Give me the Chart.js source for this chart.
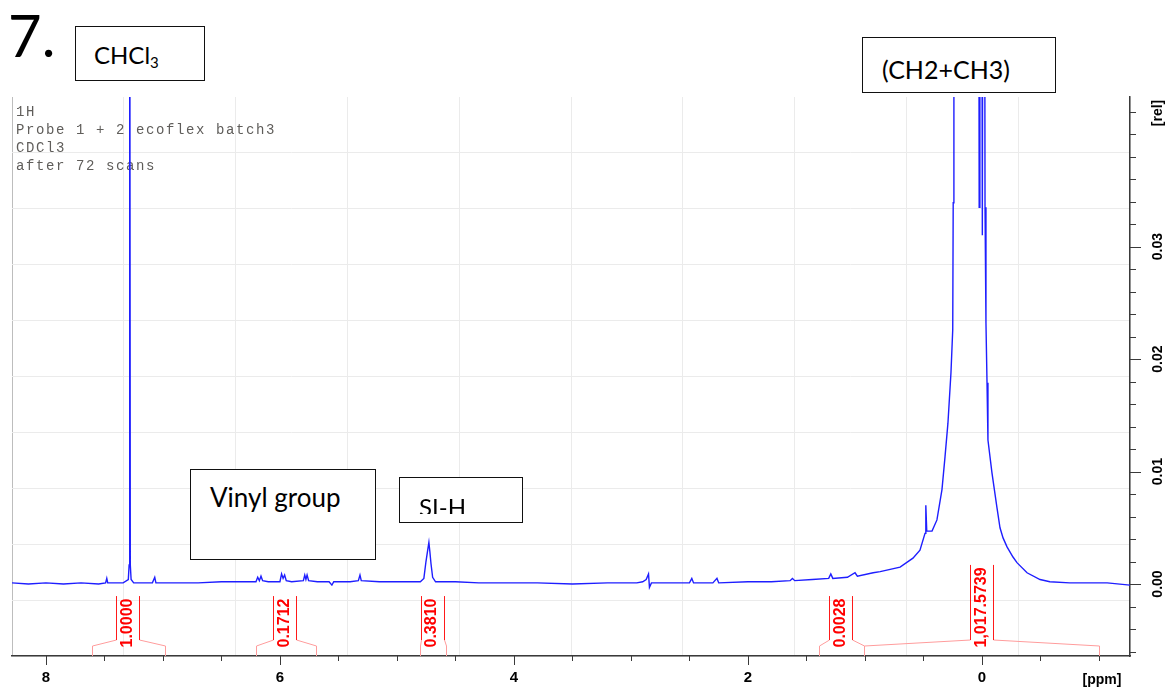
<!DOCTYPE html>
<html>
<head>
<meta charset="utf-8">
<script src="https://cdn.jsdelivr.net/npm/chart.js@4.4.1/dist/chart.umd.min.js"></script>
<style>
  body { margin: 0; background: #fff; }
  #wrap { position: relative; width: 1171px; height: 692px; overflow: hidden; }
  #spec { position: absolute; left: 0; top: 0; }
  .note { position: absolute; box-sizing: border-box; border: 1.5px solid #111; background: #fff; font-family: Lato, sans-serif; color: #000; }
  .note span, .big { position: absolute; white-space: nowrap; line-height: 1; font-family: Lato, sans-serif; }
  .clip { position: absolute; left: 0; top: 0; right: 0; overflow: hidden; }
</style>
</head>
<body>
<div id="wrap">
  <canvas id="spec" width="1171" height="692"></canvas>
  <div class="big" style="left:8px; top:6px; font-size:58px;">7.</div>
  <div class="note" style="left:75px; top:26px; width:130px; height:55px;">
    <span style="left:18px; top:16px; font-size:24px;">CHCl<sub style="font-size:15px; vertical-align:-4px;">3</sub></span>
  </div>
  <div class="note" style="left:862px; top:37px; width:194px; height:56px;">
    <span style="left:19px; top:19px; font-size:25px;">(CH2+CH3)</span>
  </div>
  <div class="note" style="left:190px; top:469px; width:186px; height:91px;">
    <span style="left:19px; top:14px; font-size:26px;">Vinyl group</span>
  </div>
  <div class="note" style="left:399px; top:477px; width:124px; height:46px;">
    <div class="clip" style="height:36px;">
      <span style="left:19px; top:17px; font-size:24px;">SI-H</span>
    </div>
  </div>
</div>
<script>
// spectrum trace (ppm, intensity [rel])
const SPEC_PPM = [
  8.29, 8.15, 8.00, 7.85, 7.70, 7.55, 7.49, 7.480, 7.472, 7.34,
  7.296, 7.289, 7.284, 7.279, 7.272, 7.25, 7.09, 7.070, 7.060, 6.90,
  6.70, 6.50, 6.30, 6.205, 6.190, 6.176, 6.162, 6.148, 6.10, 6.00,
  5.986, 5.973, 5.960, 5.946, 5.90, 5.80, 5.788, 5.778, 5.768, 5.755,
  5.68, 5.58, 5.556, 5.54, 5.40, 5.33, 5.316, 5.305, 5.15, 4.95,
  4.80, 4.770, 4.752, 4.736, 4.727, 4.719, 4.709, 4.695, 4.67, 4.50,
  4.30, 4.05, 3.80, 3.50, 3.20, 2.95, 2.90, 2.870, 2.850, 2.842,
  2.825, 2.75, 2.60, 2.50, 2.480, 2.465, 2.30, 2.265, 2.250, 2.00,
  1.80, 1.64, 1.620, 1.600, 1.45, 1.31, 1.292, 1.275, 1.15, 1.085,
  1.065, 0.93, 0.87, 0.70, 0.59, 0.53, 0.487, 0.480, 0.472, 0.427,
  0.385, 0.342, 0.316, 0.291, 0.265, 0.250, 0.246, 0.240, 0.15, 0.05,
  0.030, 0.024, 0.018, 0.004, -0.003, -0.010, -0.020, -0.026, -0.034, -0.043,
  -0.051, -0.085, -0.128, -0.154, -0.180, -0.214, -0.265, -0.299, -0.385, -0.496,
  -0.58, -0.75, -0.90, -1.07, -1.265
];
const SPEC_INT = [
  0.0001, 0.0000, 0.0001, 0.0000, 0.0001, 0.0000, 0.0001, 0.0005, 0.0001, 0.0001,
  0.0004, 0.0017, 0.0700, 0.0017, 0.0004, 0.0001, 0.0001, 0.0006, 0.0001, 0.0001,
  0.0001, 0.0002, 0.0002, 0.0002, 0.0006, 0.0003, 0.0007, 0.0003, 0.0002, 0.0002,
  0.0009, 0.0005, 0.0008, 0.0003, 0.0002, 0.0003, 0.0008, 0.0004, 0.0008, 0.0003,
  0.0002, 0.0002, -0.0001, 0.0002, 0.0002, 0.0003, 0.0008, 0.0003, 0.0002, 0.0002,
  0.0002, 0.0005, 0.0020, 0.0031, 0.0037, 0.0029, 0.0018, 0.0006, 0.0002, 0.0002,
  0.0001, 0.0001, 0.0001, 0.0000, 0.0001, 0.0001, 0.0002, 0.0004, 0.0009, -0.0003,
  0.0001, 0.0001, 0.0001, 0.0001, 0.0005, 0.0001, 0.0001, 0.0005, 0.0001, 0.0002,
  0.0002, 0.0003, 0.0005, 0.0003, 0.0004, 0.0005, 0.0009, 0.0005, 0.0006, 0.0010,
  0.0007, 0.0010, 0.0011, 0.0015, 0.0023, 0.0030, 0.0045, 0.0070, 0.0047, 0.0047,
  0.0057, 0.0084, 0.0113, 0.0143, 0.0188, 0.0226, 0.0339, 0.0800, 0.1000, 0.1000,
  0.0800, 0.0335, 0.0800, 0.0800, 0.0310, 0.0800, 0.0800, 0.0335, 0.0232, 0.0179,
  0.0128, 0.0099, 0.0068, 0.0050, 0.0041, 0.0033, 0.0024, 0.0019, 0.0010, 0.0004,
  0.0002, 0.0001, 0.0001, 0.0001, -0.0001
];

const X_MIN = -1.265, X_MAX = 8.29;
const Y_MIN = -0.0064, Y_MAX = 0.0433;
const X_TICK_LABELS = [8, 6, 4, 2, 0];
const X_MINOR_TICKS = [8, 7.5, 7, 6.5, 6, 5.5, 5, 4.5, 4, 3.5, 3, 2.5, 2, 1.5, 1, 0.5, 0, -0.5, -1];
const Y_TICK_LABELS = [0, 0.01, 0.02, 0.03];
const Y_MINOR_TICKS = [-0.006, -0.004, -0.002, 0, 0.002, 0.004, 0.006, 0.008, 0.01, 0.012, 0.014, 0.016,
  0.018, 0.02, 0.022, 0.024, 0.026, 0.028, 0.03, 0.032, 0.034, 0.036, 0.038, 0.04, 0.042];

// integrals: label, range start/end (ppm), label position (ppm)
const INT_LABELS = ['1.0000', '0.1712', '0.3810', '0.0028', '1,017.5739'];
const INT_FROM = [7.609, 6.202, 4.802, 1.390, 1.010];
const INT_TO = [6.986, 5.695, 4.582, 1.010, -0.996];
const INT_AT = [7.30, 5.96, 4.70, 1.207, 0.007];

const INFO_LINES = ['1H', 'Probe 1 + 2 ecoflex batch3', 'CDCl3', 'after 72 scans'];

const points = SPEC_PPM.map((p, i) => ({ x: p, y: SPEC_INT[i] }));

const infoText = {
    id: 'infoText',
    beforeDatasetsDraw(chart) {
        const { ctx, chartArea } = chart;
        ctx.save();
        ctx.font = '14px "Liberation Mono", monospace';
        ctx.letterSpacing = '1.6px';
        ctx.fillStyle = '#5f5d5a';
        ctx.textBaseline = 'middle';
        INFO_LINES.forEach((t, i) => ctx.fillText(t, chartArea.left + 4, chartArea.top + 15 + i * 18));
        ctx.restore();
    }
};

const decor = {
    id: 'decor',
    afterDraw(chart) {
        const { ctx, chartArea: a, scales: { x, y } } = chart;
        ctx.save();
        ctx.lineWidth = 1;
        const seg = (x1, y1, x2, y2, col) => {
            ctx.strokeStyle = col;
            ctx.beginPath(); ctx.moveTo(x1, y1); ctx.lineTo(x2, y2); ctx.stroke();
        };

        // x tick marks
        X_MINOR_TICKS.forEach(v => {
            const px = Math.round(x.getPixelForValue(v)) + 0.5;
            seg(px, a.bottom, px, a.bottom + (X_TICK_LABELS.includes(v) ? 9 : 5), '#3a3a3a');
        });
        // y tick marks
        Y_MINOR_TICKS.forEach(v => {
            const py = Math.round(y.getPixelForValue(v)) + 0.5;
            const major = Y_TICK_LABELS.some(t => Math.abs(t - v) < 1e-9);
            seg(a.right, py, a.right + (major ? 11 : 6), py, '#3a3a3a');
        });

        const vtext = (t, cx, cy) => {
            ctx.save(); ctx.translate(cx, cy); ctx.rotate(-Math.PI / 2); ctx.fillText(t, 0, 0); ctx.restore();
        };

        // integrals
        ctx.font = 'bold 16px "Liberation Sans", Arial';
        ctx.textAlign = 'center';
        ctx.textBaseline = 'middle';
        INT_LABELS.forEach((lab, i) => {
            const cx = x.getPixelForValue(INT_AT[i]);
            const x1 = Math.round(x.getPixelForValue(INT_FROM[i])) + 0.5;
            const x2 = Math.round(x.getPixelForValue(INT_TO[i])) + 0.5;
            const bl = Math.max(x1, Math.round(cx - 11.5) + 0.5);
            const br = Math.min(x2, Math.round(cx + 11.5) + 0.5);
            const w = ctx.measureText(lab).width;
            const yEnd = a.bottom - 8;
            const yTop = yEnd - w - 3;
            ctx.strokeStyle = '#ff9c9c';
            ctx.beginPath();
            ctx.moveTo(x1, a.bottom); ctx.lineTo(x1, a.bottom - 10); ctx.lineTo(bl, a.bottom - 16);
            ctx.moveTo(x2, a.bottom); ctx.lineTo(x2, a.bottom - 10); ctx.lineTo(br, a.bottom - 16);
            ctx.stroke();
            ctx.fillStyle = '#ff1a1a';
            ctx.fillRect(bl - 0.5, yTop, 1, a.bottom - 16 - yTop);
            ctx.fillRect(br - 0.5, yTop, 1, a.bottom - 16 - yTop);
            ctx.fillStyle = '#ff0000';
            vtext(lab, cx, (yTop + yEnd) / 2 + 1);
        });

        // rotated y labels
        ctx.fillStyle = '#000';
        ctx.font = 'bold 14px "Liberation Sans", Arial';
        Y_TICK_LABELS.forEach(v => vtext(v.toFixed(2), a.right + 28, y.getPixelForValue(v)));
        vtext('[rel]', a.right + 28, a.top + 16);
        ctx.fillText('[ppm]', 1102, a.bottom + 24);
        ctx.restore();
    }
};

new Chart(document.getElementById('spec'), {
    type: 'scatter',
    data: {
        datasets: [{
            data: points,
            showLine: true,
            borderColor: '#1e1eff',
            borderWidth: 1.4,
            pointRadius: 0,
            tension: 0
        }]
    },
    options: {
        responsive: false,
        animation: false,
        devicePixelRatio: 1,
        layout: { padding: { left: 12, top: 97, right: 0, bottom: 0 } },
        plugins: { legend: { display: false }, tooltip: { enabled: false } },
        scales: {
            x: {
                type: 'linear', position: 'bottom', reverse: true, min: X_MIN, max: X_MAX,
                afterBuildTicks: s => { s.ticks = X_TICK_LABELS.map(v => ({ value: v })); },
                afterFit: s => { s.height = 36; },
                grid: { display: false, drawTicks: true, tickLength: 9 },
                border: { display: true, color: '#3a3a3a', width: 1.5 },
                ticks: {
                    color: '#000', padding: 4, maxRotation: 0, autoSkip: false,
                    font: { family: '"Liberation Sans", Arial', size: 15, weight: 'bold' },
                    callback: v => String(v)
                }
            },
            y: {
                type: 'linear', position: 'right', min: Y_MIN, max: Y_MAX,
                afterFit: s => { s.width = 41; },
                grid: { display: false, drawTicks: false },
                border: { display: true, color: '#3a3a3a', width: 1.5 },
                ticks: { display: false }
            },
            gx: {
                type: 'linear', position: 'top', min: 0, max: 10,
                afterFit: s => { s.height = 0; },
                ticks: { display: false, stepSize: 1 },
                border: { display: false },
                grid: { drawTicks: false, color: c => c.tick.value === 0 ? '#bdbdbd' : '#ebebeb' }
            },
            gy: {
                type: 'linear', position: 'left', min: 0, max: 10,
                afterFit: s => { s.width = 0; },
                ticks: { display: false, stepSize: 1 },
                border: { display: false },
                grid: { drawTicks: false, color: c => c.tick.value === 10 ? 'rgba(0,0,0,0)' : '#ebebeb' }
            }
        }
    },
    plugins: [infoText, decor]
});
</script>
</body>
</html>
